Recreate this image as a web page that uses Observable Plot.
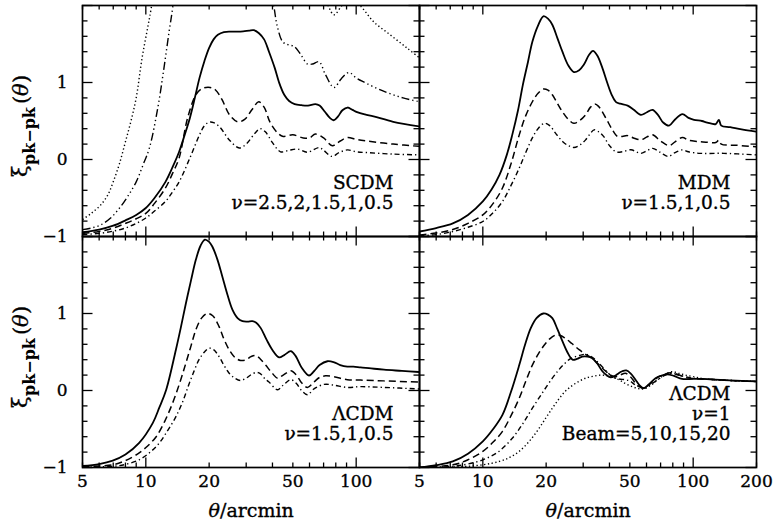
<!DOCTYPE html>
<html><head><meta charset="utf-8">
<script src="https://cdn.jsdelivr.net/npm/d3@7"></script>
<script src="https://cdn.jsdelivr.net/npm/@observablehq/plot@0.6"></script>
<style>body{margin:0;background:#fff} #chart{width:773px;height:524px}</style>
</head><body><div id="chart"></div><script>
// ---------- data: [theta (arcmin), xi_pk-pk] ----------
// SCDM panel (top-left)
const scdmNu25 = [[5,-0.78],[5.5,-0.70],[6.1,-0.59],[6.6,-0.46],[7.0,-0.29],[7.5,-0.05],[8.0,0.23],[8.5,0.50],[9.0,0.80],[9.6,1.32],[10.2,1.71],[10.6,1.96],[11.2,2.4],[13,3.2],[20,4],[40,4],[60,3],[65,2.4],[73.5,2.0],[78.5,1.88],[85.5,2.0],[92,2.1],[105,1.99],[121,1.79],[145,1.62],[174,1.45],[200,1.32]];
const scdmNu2 = [[5,-0.91],[5.5,-0.89],[6.1,-0.85],[6.8,-0.76],[7.5,-0.63],[8.2,-0.48],[9.0,-0.29],[9.7,-0.07],[10.4,0.15],[11.4,0.67],[12.2,1.19],[12.9,1.66],[13.4,1.96],[14,2.4],[20,3.5],[30,3.2],[37,2.4],[40.5,2.0],[42,1.75],[44.7,1.53],[47.5,1.49],[50.6,1.47],[54,1.38],[58.7,1.24],[62,1.24],[66.6,1.27],[71.5,1.10],[78.5,0.935],[85,1.05],[92.3,1.13],[100,1.06],[108,1.01],[134,0.89],[167,0.80],[200,0.75]];
const scdmNu15 = [[5,-0.945],[6,-0.91],[7,-0.86],[8,-0.79],[9,-0.72],[10,-0.63],[11,-0.50],[12.4,-0.29],[13.4,-0.10],[14.4,0.10],[15.3,0.32],[16.2,0.54],[17.1,0.80],[18,1.06],[19,1.28],[20,1.45],[21,1.56],[22,1.62],[23.5,1.655],[26,1.66],[29,1.665],[31,1.675],[32.6,1.68],[34.5,1.64],[36.5,1.56],[38.5,1.40],[41,1.19],[43,1.00],[45.5,0.84],[48,0.76],[51,0.72],[55,0.705],[59,0.70],[64,0.72],[67,0.70],[71,0.62],[75,0.54],[78.2,0.51],[82,0.56],[86,0.64],[91,0.675],[96,0.645],[101,0.615],[110,0.585],[121,0.56],[150,0.49],[200,0.43]];
const scdmNu1 = [[5,-0.96],[6,-0.935],[7,-0.89],[8,-0.83],[9,-0.77],[10,-0.70],[11,-0.57],[12.4,-0.37],[13.4,-0.18],[14.4,0.02],[15.8,0.54],[17.3,0.84],[18.5,0.92],[20.2,0.935],[21.5,0.90],[23,0.78],[25,0.58],[27.3,0.49],[29.5,0.52],[32,0.65],[34.4,0.75],[36.5,0.68],[39,0.48],[42.5,0.34],[45,0.30],[50,0.32],[56,0.28],[60,0.28],[64,0.33],[70,0.28],[77,0.18],[84,0.24],[91,0.285],[100,0.26],[112,0.24],[150,0.20],[200,0.17]];
const scdmNu05 = [[5,-0.975],[6,-0.96],[7,-0.93],[8,-0.89],[9,-0.83],[10,-0.76],[11,-0.67],[12.4,-0.545],[13.4,-0.42],[14.4,-0.29],[16.2,0.02],[18,0.32],[19,0.44],[20,0.485],[21,0.48],[22.5,0.42],[25,0.25],[27.8,0.15],[30,0.20],[33,0.34],[35,0.40],[37,0.36],[40,0.22],[43.7,0.10],[48,0.12],[52.7,0.135],[58.7,0.095],[66.6,0.155],[70,0.12],[76.7,0.04],[83,0.09],[91,0.125],[100,0.10],[112,0.09],[150,0.07],[200,0.06]];
// MDM panel (top-right)
const mdmNu15 = [[5,-0.935],[6,-0.89],[7.2,-0.83],[8.5,-0.72],[10,-0.545],[11,-0.39],[12,-0.20],[13,0.06],[13.8,0.32],[14.7,0.64],[15.5,0.97],[16.4,1.27],[17.2,1.53],[18.3,1.74],[19.4,1.86],[20.4,1.83],[21.4,1.75],[22.6,1.58],[23.9,1.40],[25.5,1.22],[27.1,1.135],[28.7,1.16],[30.2,1.23],[32,1.36],[33.4,1.41],[35,1.35],[37,1.19],[39,1.00],[41,0.84],[43,0.745],[45,0.725],[48.8,0.70],[52,0.65],[56.4,0.58],[60,0.61],[64.1,0.645],[68,0.58],[72,0.48],[76.8,0.44],[82,0.52],[88.9,0.59],[95,0.54],[100.9,0.515],[110,0.50],[116.7,0.48],[128,0.46],[132.5,0.515],[136,0.44],[150,0.42],[170,0.39],[200,0.36]];
const mdmNu1 = [[5,-0.98],[6,-0.955],[7.2,-0.91],[8.5,-0.83],[10,-0.72],[11.2,-0.57],[12.4,-0.37],[13.6,-0.06],[14.9,0.32],[16,0.57],[17.2,0.75],[18.3,0.86],[19.4,0.915],[20.4,0.90],[21.4,0.84],[22.6,0.73],[23.9,0.62],[25.5,0.52],[27.1,0.47],[29,0.51],[30.8,0.58],[32.5,0.68],[34.1,0.72],[35.5,0.69],[38.4,0.54],[41,0.40],[43.6,0.30],[46,0.30],[48.8,0.31],[52,0.28],[56.4,0.256],[60,0.29],[64.1,0.32],[70,0.24],[76.8,0.18],[82,0.23],[88.9,0.285],[95,0.25],[104,0.234],[115,0.225],[128,0.22],[132.5,0.25],[136,0.20],[160,0.185],[200,0.165]];
const mdmNu05 = [[5,-0.99],[6,-0.975],[7.2,-0.935],[8.5,-0.88],[10,-0.805],[11.2,-0.69],[12.4,-0.545],[13.6,-0.34],[14.9,-0.11],[16,0.09],[17.2,0.28],[18.3,0.40],[19.6,0.47],[20.8,0.44],[22.2,0.34],[24,0.23],[25.5,0.18],[27.1,0.156],[29,0.19],[30.8,0.255],[32.5,0.34],[33.8,0.385],[35.5,0.36],[37.5,0.30],[40,0.18],[43,0.10],[46,0.10],[50.6,0.126],[56.4,0.08],[60,0.11],[64.1,0.145],[70,0.09],[76,0.04],[82,0.09],[88.9,0.125],[95,0.10],[108.5,0.08],[140,0.08],[200,0.06]];
// LambdaCDM panel (bottom-left)
const lcdmNu15 = [[5,-0.98],[6,-0.955],[6.96,-0.91],[8,-0.83],[9.3,-0.68],[10.8,-0.42],[11.6,-0.22],[12.5,0.01],[13.9,0.53],[14.7,0.83],[15.5,1.13],[16.4,1.43],[17.3,1.70],[18.2,1.88],[19.1,1.96],[20,1.93],[20.7,1.87],[21.9,1.70],[23.1,1.48],[24.4,1.25],[25.8,1.05],[27.3,0.94],[28.8,0.90],[30.5,0.895],[32.1,0.90],[33.5,0.88],[35.2,0.81],[37.5,0.66],[39.9,0.53],[43,0.43],[45.5,0.46],[48.9,0.51],[51.5,0.45],[55,0.30],[59.7,0.195],[63,0.25],[67,0.33],[73,0.38],[78,0.37],[84,0.33],[90.8,0.31],[97,0.31],[105,0.30],[115,0.29],[135.5,0.27],[165,0.255],[200,0.24]];
const lcdmNu1 = [[5,-0.99],[6,-0.98],[6.96,-0.965],[8,-0.91],[9.3,-0.81],[10.2,-0.72],[11.2,-0.60],[12.3,-0.40],[13.4,-0.165],[14.5,0.10],[15.5,0.355],[16.4,0.58],[17.3,0.79],[18.4,0.94],[19.6,1.00],[20.8,0.97],[22.3,0.83],[23.5,0.67],[24.9,0.53],[26.5,0.43],[28.2,0.39],[30,0.40],[31.6,0.44],[33.3,0.455],[35,0.41],[37.1,0.33],[40,0.22],[42.3,0.16],[45,0.20],[48.9,0.255],[52,0.20],[55,0.10],[58.7,0.04],[63,0.11],[67,0.17],[71.5,0.19],[78,0.18],[90.8,0.14],[105,0.135],[135,0.125],[200,0.11]];
const lcdmNu05 = [[5,-0.995],[6.96,-0.985],[8,-0.96],[9.3,-0.90],[10.5,-0.80],[11.6,-0.68],[12.7,-0.52],[13.9,-0.34],[15,-0.14],[16.1,0.095],[17,0.26],[17.9,0.40],[19,0.50],[20,0.55],[21,0.53],[22.3,0.44],[23.5,0.33],[24.9,0.225],[26.5,0.16],[28.2,0.13],[30,0.16],[31.6,0.205],[33.5,0.235],[35,0.22],[36.6,0.16],[38.5,0.11],[42.3,0.01],[45,0.07],[48.9,0.14],[52,0.09],[55,0.0],[58.7,-0.055],[63,0.02],[70.4,0.08],[78,0.07],[90.8,0.04],[105,0.05],[135,0.04],[200,0.02]];
// LambdaCDM, nu=1, beams 5,10,15,20 (bottom-right)
const beam5 = [[5,-1.0],[6,-0.97],[7.2,-0.92],[8.5,-0.82],[10,-0.66],[11.2,-0.50],[12.4,-0.316],[13.6,-0.02],[14.9,0.33],[15.9,0.60],[16.9,0.81],[18,0.94],[19.4,1.00],[20.4,0.985],[21.4,0.94],[22.6,0.80],[23.9,0.64],[25.2,0.50],[26.7,0.40],[28,0.41],[29.7,0.44],[31.5,0.44],[33.1,0.42],[35,0.35],[37,0.25],[38.7,0.20],[40.5,0.17],[42.5,0.19],[44.3,0.225],[46,0.25],[48.1,0.26],[50.5,0.22],[53.2,0.14],[55.5,0.07],[58.2,0.03],[61.5,0.08],[66.2,0.16],[70,0.19],[75.2,0.21],[81,0.19],[88.5,0.15],[100,0.15],[110,0.15],[140,0.135],[170,0.125],[200,0.117]];
const beam10 = [[5,-1.0],[7.2,-0.965],[8.5,-0.90],[10,-0.79],[11.2,-0.67],[12.4,-0.53],[13.6,-0.33],[14.9,-0.10],[16,0.12],[17.2,0.33],[18.4,0.48],[19.6,0.59],[20.8,0.67],[22.2,0.72],[23.4,0.715],[24.6,0.68],[26.5,0.61],[28.7,0.53],[30.8,0.47],[33.1,0.42],[35.5,0.34],[38.4,0.25],[40.5,0.20],[42.8,0.18],[45,0.20],[47.6,0.225],[50.3,0.18],[53.2,0.095],[55.5,0.05],[58.2,0.03],[62,0.08],[68.6,0.18],[73,0.21],[78,0.23],[84,0.21],[91.8,0.17],[100,0.155],[120,0.145],[150,0.13],[200,0.117]];
const beam15 = [[5,-1.0],[7.2,-0.985],[8.5,-0.955],[10,-0.90],[11.8,-0.80],[13.8,-0.62],[15.5,-0.43],[17.2,-0.23],[19.3,-0.02],[21.4,0.16],[23,0.27],[24.6,0.355],[26,0.41],[27.6,0.44],[29.2,0.46],[30.8,0.47],[32.3,0.45],[34,0.41],[35.6,0.355],[38.4,0.26],[41.2,0.18],[44.3,0.15],[47.6,0.14],[50.3,0.12],[53.2,0.07],[58.2,0.03],[63,0.08],[68.6,0.15],[73.8,0.20],[79.2,0.225],[85,0.20],[91.8,0.18],[100,0.16],[120,0.145],[150,0.13],[200,0.117]];
const beam20 = [[5,-1.0],[7.2,-0.995],[10,-0.965],[12,-0.92],[13.4,-0.87],[14.9,-0.79],[16.5,-0.67],[18.2,-0.52],[19.9,-0.36],[21.4,-0.23],[23,-0.11],[24.6,-0.013],[26.5,0.06],[28.7,0.12],[30.8,0.16],[33.5,0.185],[37,0.20],[40.5,0.18],[44.3,0.14],[47.6,0.09],[51.3,0.05],[55,0.025],[58.2,0.02],[63,0.07],[68.6,0.15],[73.8,0.21],[79.2,0.245],[85,0.225],[91.8,0.20],[100,0.18],[114,0.15],[150,0.13],[200,0.117]];

// ticks & labels
const xMajorTicks = [10, 100];
const xMinorTicks = [5, 6, 7, 8, 9, 20, 30, 40, 50, 60, 70, 80, 90, 200];
const yMajorTicks = [-1, 0, 1, 2];
const yMinorTicks = [-0.8, -0.6, -0.4, -0.2, 0.2, 0.4, 0.6, 0.8, 1.2, 1.4, 1.6, 1.8];
const xTickLabelsLeft = [5, 10, 20, 50, 100];
const xTickLabelsRight = [5, 10, 20, 50, 100, 200];
const yTickLabels = [-1, 0, 1];
const xTitleParts = ["θ", "/arcmin"];
const yTitleParts = ["ξ", "pk−pk", "(", "θ", ")"];
const panelNotes = [
  {fx: "L", fy: "T", text: "SCDM\nν=2.5,2,1.5,1,0.5"},
  {fx: "R", fy: "T", text: "MDM\nν=1.5,1,0.5"},
  {fx: "L", fy: "B", text: "ΛCDM\nν=1.5,1,0.5"},
  {fx: "R", fy: "B", text: "ΛCDM\nν=1\nBeam=5,10,15,20"}
];

const series = [
  {fx: "L", fy: "T", style: "dotted", data: scdmNu25},
  {fx: "L", fy: "T", style: "dashdotdot", data: scdmNu2},
  {fx: "L", fy: "T", style: "solid", data: scdmNu15},
  {fx: "L", fy: "T", style: "dashed", data: scdmNu1},
  {fx: "L", fy: "T", style: "dashdot", data: scdmNu05},
  {fx: "R", fy: "T", style: "solid", data: mdmNu15},
  {fx: "R", fy: "T", style: "dashed", data: mdmNu1},
  {fx: "R", fy: "T", style: "dashdot", data: mdmNu05},
  {fx: "L", fy: "B", style: "solid", data: lcdmNu15},
  {fx: "L", fy: "B", style: "dashed", data: lcdmNu1},
  {fx: "L", fy: "B", style: "dashdot", data: lcdmNu05},
  {fx: "R", fy: "B", style: "solid", data: beam5},
  {fx: "R", fy: "B", style: "dashed", data: beam10},
  {fx: "R", fy: "B", style: "dashdot", data: beam15},
  {fx: "R", fy: "B", style: "dotted", data: beam20}
];
const rows = series.flatMap((s, i) => s.data.map(([t, v]) => ({fx: s.fx, fy: s.fy, style: s.style, key: i, theta: t, xi: v})));

// layout
const W = 773, H = 524, ML = 81, MR = 17, MT = 4, MB = 57;
const FW = (W - ML - MR) / 2, FH = (H - MT - MB) / 2;

const styles = {
  solid: {strokeWidth: 1.8},
  dashed: {strokeWidth: 1.5, strokeDasharray: "7,4"},
  dashdot: {strokeWidth: 1.4, strokeDasharray: "5,3,1.3,3"},
  dashdotdot: {strokeWidth: 1.4, strokeDasharray: "8,3,1.3,3,1.3,3,1.3,3"},
  dotted: {strokeWidth: 1.4, strokeDasharray: "1.3,2.5"}
};
const lineMarks = Object.entries(styles).map(([name, opt]) =>
  Plot.line(rows.filter(r => r.style === name), {
    x: "theta", y: "xi", z: "key", fx: "fx", fy: "fy", stroke: "black",
    curve: "catmull-rom", clip: true, strokeLinecap: "butt", strokeLinejoin: "round", ...opt
  })
);

const tk = {stroke: "black", strokeWidth: 1.3};
const tickMarks = [
  Plot.tickX(xMajorTicks, {x: d => d, insetTop: FH - 10, ...tk}),
  Plot.tickX(xMajorTicks, {x: d => d, insetBottom: FH - 10, ...tk}),
  Plot.tickX(xMinorTicks, {x: d => d, insetTop: FH - 5, ...tk}),
  Plot.tickX(xMinorTicks, {x: d => d, insetBottom: FH - 5, ...tk}),
  Plot.tickY(yMajorTicks, {y: d => d, insetRight: FW - 11, ...tk}),
  Plot.tickY(yMajorTicks, {y: d => d, insetLeft: FW - 11, ...tk}),
  Plot.tickY(yMinorTicks, {y: d => d, insetRight: FW - 6, ...tk}),
  Plot.tickY(yMinorTicks, {y: d => d, insetLeft: FW - 6, ...tk})
];

const xLabelRows = [
  ...xTickLabelsLeft.map(v => ({fx: "L", v})),
  ...xTickLabelsRight.map(v => ({fx: "R", v}))
];
const yLabelRows = ["T", "B"].flatMap(fy => yTickLabels.map(v => ({fy, v})));
const fmt = v => (v < 0 ? "−" + Math.abs(v) : String(v));
const ink = {fill: "black", stroke: "black", strokeWidth: 0.35};

const labelMarks = [
  Plot.text(xLabelRows, {x: "v", fx: "fx", fy: () => "B", text: d => fmt(d.v), frameAnchor: "bottom", dy: 19, fontSize: 17, ...ink}),
  Plot.text(yLabelRows, {y: "v", fx: () => "L", fy: "fy", text: d => fmt(d.v), frameAnchor: "left", textAnchor: "end", dx: -15, fontSize: 17, ...ink}),
  // x titles
  Plot.text(["L", "R"], {fx: d => d, fy: () => "B", text: () => xTitleParts[0], fontStyle: "italic", frameAnchor: "bottom", textAnchor: "end", dx: -31, dy: 49, fontSize: 19, ...ink}),
  Plot.text(["L", "R"], {fx: d => d, fy: () => "B", text: () => xTitleParts[1], frameAnchor: "bottom", textAnchor: "start", dx: -31, dy: 49, fontSize: 19, ...ink}),
  // y titles (rotated, reading upward)
  Plot.text(["T", "B"], {fx: () => "L", fy: d => d, text: () => yTitleParts[0], frameAnchor: "left", rotate: -90, textAnchor: "start", dx: -62, dy: 56, fontSize: 21, ...ink}),
  Plot.text(["T", "B"], {fx: () => "L", fy: d => d, text: () => yTitleParts[1], frameAnchor: "left", rotate: -90, textAnchor: "start", dx: -53, dy: 44, fontSize: 16, fontWeight: "bold", fill: "black"}),
  Plot.text(["T", "B"], {fx: () => "L", fy: d => d, text: () => yTitleParts[2], frameAnchor: "left", rotate: -90, textAnchor: "start", dx: -61, dy: -17, fontSize: 21, ...ink}),
  Plot.text(["T", "B"], {fx: () => "L", fy: d => d, text: () => yTitleParts[3], frameAnchor: "left", rotate: -90, textAnchor: "start", dx: -61, dy: -25, fontSize: 21, fontStyle: "italic", ...ink}),
  Plot.text(["T", "B"], {fx: () => "L", fy: d => d, text: () => yTitleParts[4], frameAnchor: "left", rotate: -90, textAnchor: "start", dx: -61, dy: -38, fontSize: 21, ...ink}),
  // panel annotations
  Plot.text(panelNotes, {fx: "fx", fy: "fy", text: "text", frameAnchor: "bottom-right", textAnchor: "end", lineAnchor: "bottom", lineHeight: 1.06, dx: -26, dy: -28, fontSize: 18.5, ...ink})
];

const chart = Plot.plot({
  width: W, height: H,
  marginLeft: ML, marginRight: MR, marginTop: MT, marginBottom: MB,
  style: {fontFamily: "DejaVu Serif", background: "#fff", color: "black"},
  x: {type: "log", domain: [5, 200], axis: null},
  y: {domain: [-1, 2], axis: null},
  fx: {domain: ["L", "R"], padding: 0, axis: null},
  fy: {domain: ["T", "B"], padding: 0, axis: null},
  marks: [
    ...lineMarks,
    ...tickMarks,
    Plot.frame({stroke: "black", strokeWidth: 1.7}),
    ...labelMarks
  ]
});
document.getElementById("chart").appendChild(chart);
</script></body></html>
